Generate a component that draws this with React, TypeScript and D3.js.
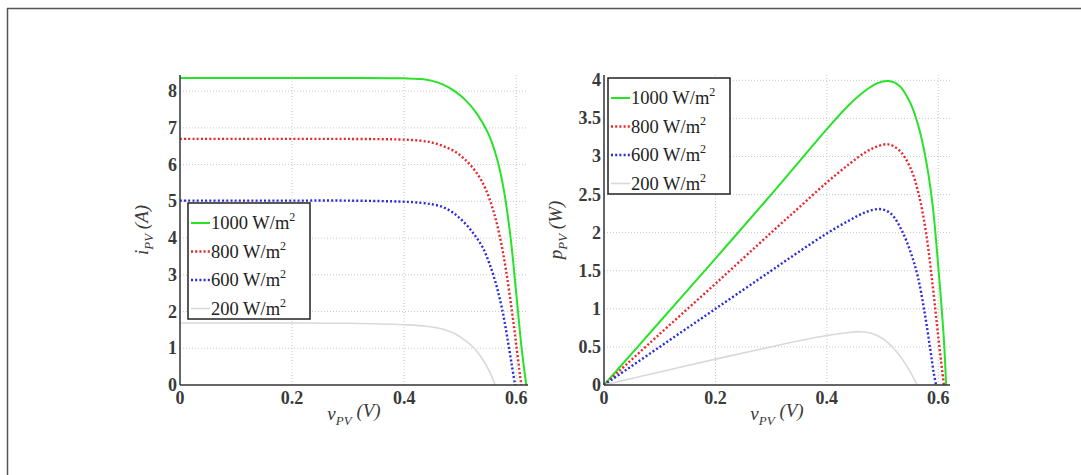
import React, { useEffect, useRef } from "react";
import * as d3 from "d3";

// irradiance levels (legend)
const labels = ["1000", "800", "600", "200"];

// I-V curves
const vGreenI = [0, 0.1, 0.2, 0.3, 0.4, 0.43, 0.45, 0.47, 0.49, 0.51, 0.53, 0.55, 0.565, 0.578, 0.59, 0.6, 0.61, 0.618];
const iGreen = [8.36, 8.36, 8.36, 8.36, 8.35, 8.33, 8.28, 8.18, 8.0, 7.75, 7.38, 6.85, 6.2, 5.3, 4.0, 2.5, 0.95, 0];
const vRedI = [0, 0.1, 0.2, 0.3, 0.4, 0.43, 0.45, 0.47, 0.49, 0.51, 0.53, 0.545, 0.56, 0.572, 0.582, 0.592, 0.6, 0.607, 0.609];
const iRed = [6.7, 6.7, 6.7, 6.7, 6.68, 6.65, 6.6, 6.5, 6.36, 6.12, 5.76, 5.35, 4.7, 3.95, 3.1, 2.05, 1.1, 0.23, 0];
const vBlueI = [0, 0.1, 0.2, 0.3, 0.4, 0.43, 0.45, 0.47, 0.49, 0.51, 0.525, 0.54, 0.553, 0.565, 0.575, 0.584, 0.592, 0.598];
const iBlue = [5.02, 5.02, 5.02, 5.02, 4.99, 4.96, 4.92, 4.84, 4.66, 4.38, 4.1, 3.75, 3.27, 2.69, 2.05, 1.3, 0.55, 0];
const vGrayI = [0, 0.1, 0.2, 0.3, 0.4, 0.44, 0.47, 0.49, 0.51, 0.525, 0.54, 0.552, 0.5625];
const iGray = [1.69, 1.69, 1.69, 1.68, 1.64, 1.6, 1.52, 1.4, 1.2, 1.0, 0.7, 0.38, 0];

// P-V curves
const vGreenP = [0, 0.1, 0.2, 0.3, 0.35, 0.4, 0.44, 0.47, 0.49, 0.51, 0.53, 0.55, 0.565, 0.578, 0.59, 0.6, 0.61, 0.614];
const pGreen = [0, 0.83, 1.66, 2.5, 2.93, 3.36, 3.68, 3.87, 3.96, 3.99, 3.93, 3.7, 3.38, 2.95, 2.35, 1.55, 0.6, 0];
const vRedP = [0, 0.1, 0.2, 0.3, 0.35, 0.4, 0.44, 0.47, 0.49, 0.51, 0.53, 0.55, 0.565, 0.578, 0.59, 0.6, 0.61];
const pRed = [0, 0.67, 1.33, 2.0, 2.33, 2.66, 2.9, 3.06, 3.13, 3.16, 3.08, 2.85, 2.5, 2.0, 1.3, 0.63, 0];
const vBlueP = [0, 0.1, 0.2, 0.3, 0.35, 0.4, 0.44, 0.47, 0.495, 0.515, 0.535, 0.55, 0.563, 0.575, 0.585, 0.592, 0.596];
const pBlue = [0, 0.5, 1.0, 1.5, 1.75, 1.99, 2.16, 2.27, 2.31, 2.25, 2.02, 1.75, 1.43, 0.97, 0.5, 0.15, 0];
const vGrayP = [0, 0.1, 0.2, 0.3, 0.35, 0.4, 0.44, 0.46, 0.48, 0.5, 0.52, 0.54, 0.555, 0.562];
const pGray = [0, 0.17, 0.34, 0.5, 0.58, 0.65, 0.69, 0.7, 0.68, 0.61, 0.48, 0.29, 0.1, 0];

const xTicks = [0, 0.2, 0.4, 0.6];
const iTicks = [0, 1, 2, 3, 4, 5, 6, 7, 8];
const pTicks = [0, 0.5, 1, 1.5, 2, 2.5, 3, 3.5, 4];

const colors = ["#27e327", "#e8262b", "#2b2bdc", "#d9d9d9"];
const dashes = [null, "2 2.2", "2 2.2", null];
const widths = [2, 2.4, 2.4, 1.6];

const FONT = "Liberation Serif, DejaVu Serif, serif";

const App = () => {
  const svgRef = useRef(null);

  useEffect(() => {
    const svg = d3.select(svgRef.current);
    svg.selectAll("*").remove();

    // page frame
    svg.append("line").attr("x1", 7).attr("x2", 1081).attr("y1", 8.5).attr("y2", 8.5)
      .attr("stroke", "#555").attr("stroke-width", 1.5);
    svg.append("line").attr("x1", 7.5).attr("x2", 7.5).attr("y1", 8).attr("y2", 475)
      .attr("stroke", "#555").attr("stroke-width", 1.5);

    const panel = (opts) => {
      const x = d3.scaleLinear().domain([0, 0.621]).range([opts.left, opts.right]);
      const y = d3.scaleLinear().domain([0, opts.ymax]).range([385, 75]);
      const g = svg.append("g");

      // grid
      g.selectAll(".gx").data(xTicks.slice(1)).enter().append("line")
        .attr("x1", (d) => x(d)).attr("x2", (d) => x(d))
        .attr("y1", y(0)).attr("y2", y(opts.ymax))
        .attr("stroke", "#c8c8c8").attr("stroke-width", 1).attr("stroke-dasharray", "1 2");
      g.selectAll(".gy").data(opts.ticks.slice(1)).enter().append("line")
        .attr("x1", x(0)).attr("x2", x(0.621))
        .attr("y1", (d) => y(d)).attr("y2", (d) => y(d))
        .attr("stroke", "#c8c8c8").attr("stroke-width", 1).attr("stroke-dasharray", "1 2");

      // curves
      const line = d3.line().x((d) => x(d[0])).y((d) => y(d[1])).curve(d3.curveCatmullRom.alpha(0.5));
      opts.series.forEach((s, i) => {
        const pts = s[0].map((v, k) => [v, s[1][k]]);
        const p = g.append("path").attr("d", line(pts)).attr("fill", "none")
          .attr("stroke", colors[i]).attr("stroke-width", widths[i]);
        if (dashes[i]) p.attr("stroke-dasharray", dashes[i]);
      });

      // axes lines
      g.append("line").attr("x1", x(0)).attr("x2", x(0)).attr("y1", y(0)).attr("y2", y(opts.ymax))
        .attr("stroke", "#333").attr("stroke-width", 1.5);
      g.append("line").attr("x1", x(0)).attr("x2", x(0.621)).attr("y1", y(0)).attr("y2", y(0))
        .attr("stroke", "#333").attr("stroke-width", 1.5);

      // tick labels
      g.selectAll(".tx").data(xTicks).enter().append("text")
        .attr("x", (d) => x(d)).attr("y", 404)
        .attr("text-anchor", "middle").attr("font-family", FONT).attr("font-size", 18)
        .attr("font-weight", "bold").attr("fill", "#3a3a3a")
        .text((d) => (d === 0 ? "0" : d3.format(".1f")(d)));
      g.selectAll(".ty").data(opts.ticks).enter().append("text")
        .attr("x", x(0) - 3).attr("y", (d) => y(d) + 6)
        .attr("text-anchor", "end").attr("font-family", FONT).attr("font-size", 18)
        .attr("font-weight", "bold").attr("fill", "#3a3a3a")
        .text((d) => String(d));

      // x label
      const xl = g.append("text").attr("x", (opts.left + opts.right) / 2).attr("y", 420)
        .attr("text-anchor", "middle").attr("font-family", FONT).attr("font-size", 19)
        .attr("font-style", "italic").attr("fill", "#3a3a3a");
      xl.append("tspan").text("v");
      xl.append("tspan").attr("font-size", 13).attr("dy", 5).text("PV");
      xl.append("tspan").attr("dy", -8).text(" (V)");

      // y label
      const yl = g.append("text")
        .attr("transform", `translate(${opts.ylabelX},230) rotate(-90)`)
        .attr("text-anchor", "middle").attr("font-family", FONT).attr("font-size", 19)
        .attr("font-style", "italic").attr("fill", "#3a3a3a");
      yl.append("tspan").text(opts.ysym);
      yl.append("tspan").attr("font-size", 13).attr("dy", 5).text("PV");
      yl.append("tspan").attr("dy", -5).text(" " + opts.yunit);

      // legend
      const lg = g.append("g").attr("transform", `translate(${opts.legX},${opts.legY})`);
      lg.append("rect").attr("width", 122).attr("height", 116)
        .attr("fill", "#fff").attr("stroke", "#222").attr("stroke-width", 1.5);
      labels.forEach((lab, i) => {
        const cy = 20 + i * 28.5;
        const l = lg.append("line").attr("x1", 3).attr("x2", 22).attr("y1", cy).attr("y2", cy)
          .attr("stroke", colors[i]).attr("stroke-width", widths[i]);
        if (dashes[i]) l.attr("stroke-dasharray", dashes[i]);
        const t = lg.append("text").attr("x", 23).attr("y", cy + 6)
          .attr("font-family", FONT).attr("font-size", 18.5).attr("fill", "#222");
        t.append("tspan").text(lab + " W/m");
        t.append("tspan").attr("font-size", 12).attr("dy", -8).text("2");
      });
    };

    panel({
      left: 180, right: 528, ymax: 8.44, ticks: iTicks, ysym: "i", yunit: "(A)", ylabelX: 148,
      legX: 188, legY: 203,
      series: [[vGreenI, iGreen], [vRedI, iRed], [vBlueI, iBlue], [vGrayI, iGray]],
    });
    panel({
      left: 604, right: 950, ymax: 4.07, ticks: pTicks, ysym: "p", yunit: "(W)", ylabelX: 562,
      legX: 608, legY: 78,
      series: [[vGreenP, pGreen], [vRedP, pRed], [vBlueP, pBlue], [vGrayP, pGray]],
    });
  }, []);

  return (
    <svg
      ref={svgRef}
      width={1081}
      height={475}
      style={{ position: "absolute", left: 0, top: 0, background: "#fff" }}
    ></svg>
  );
};

export default App;
